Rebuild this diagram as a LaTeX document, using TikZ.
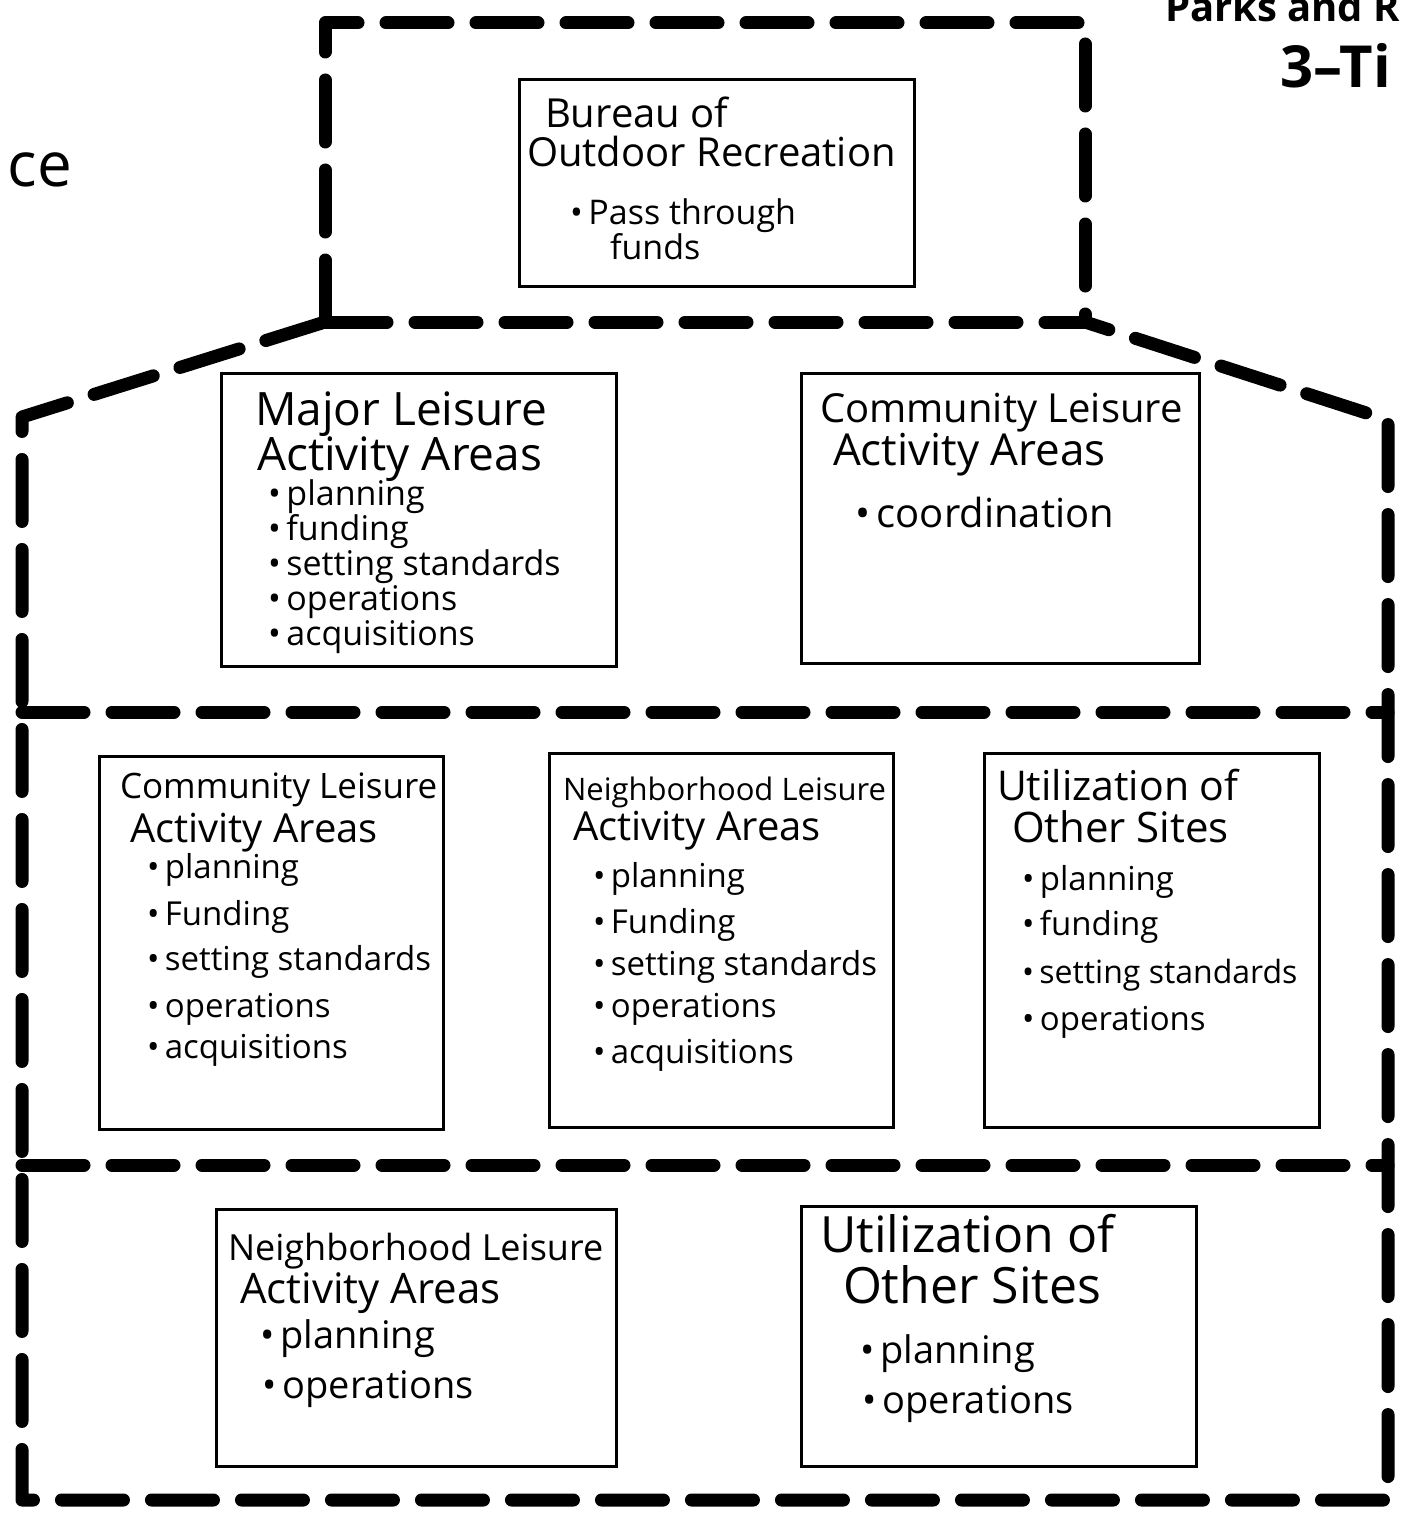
\documentclass[tikz,border=0pt]{standalone}
\usepackage{fontspec}
\setmainfont{Open Sans}
\newcommand\tsize[1]{\fontsize{#1}{#1}\selectfont}
\begin{document}
\begin{tikzpicture}[x=1pt,y=-1pt,
  wall/.style={line width=13pt,dash pattern=on 62pt off 28pt,line cap=round,line join=round},
  panel/.style={draw,line width=2.6pt,inner sep=0pt,anchor=north west},
  ln/.style={anchor=base west,inner sep=0pt,outer sep=0pt}]
\useasboundingbox (0,0) rectangle (1407,1517);
\clip (0,0) rectangle (1407,1517);
\fill[white] (0,0) rectangle (1407,1517);

% house outline corners and junctions
\coordinate (tl) at (325,23);
\coordinate (tr) at (1085,23);
\coordinate (el) at (325,322);
\coordinate (er) at (1085,322);
\coordinate (rl) at (22,417);
\coordinate (rr) at (1388,420);
\coordinate (bl) at (22,1500);
\coordinate (br) at (1388,1500);
\coordinate (d1l) at (22,712);
\coordinate (d1r) at (1388,712);
\coordinate (d2l) at (22,1165);
\coordinate (d2r) at (1388,1165);

% thick dashed outline: upper tier, roof, walls and floors
\draw[wall] (el) -- (tl) -- (tr) -- (er);
\draw[wall] (el) -- (er);
\draw[wall] (el) -- (rl) -- (bl) -- (br) -- (rr) -- (er);
\draw[wall] (d1l) -- (d1r);
\draw[wall] (d2l) -- (d2r);

% panels
\node[panel,minimum width=395pt,minimum height=207pt] (bureau) at (518,78) {};
\node[panel,minimum width=395pt,minimum height=293pt] (major) at (220,372) {};
\node[panel,minimum width=398pt,minimum height=290pt] (commtop) at (800,372) {};
\node[panel,minimum width=344pt,minimum height=373pt] (commmid) at (98,755) {};
\node[panel,minimum width=344pt,minimum height=374pt] (neighmid) at (548,752) {};
\node[panel,minimum width=335pt,minimum height=374pt] (utilmid) at (983,752) {};
\node[panel,minimum width=400pt,minimum height=257pt] (neighbot) at (215,1208) {};
\node[panel,minimum width=395pt,minimum height=260pt] (utilbot) at (800,1205) {};

% Bureau of Outdoor Recreation
\node[ln,font=\tsize{40}] (bu1) at (545,128) {Bureau of};
\node[ln,font=\tsize{40}] (bu2) at (527,167) {Outdoor Recreation};
\node[ln,font=\tsize{34}] (bu3) at (570,224) {•\,Pass through};
\node[ln,font=\tsize{34}] (bu4) at (610,259) {funds};

% Major Leisure Activity Areas
\node[ln,font=\tsize{46}] (ma1) at (255,425) {Major Leisure};
\node[ln,font=\tsize{46}] (ma2) at (257,470) {Activity Areas};
\node[ln,font=\tsize{34}] (ma3) at (268,505) {•\,planning};
\node[ln,font=\tsize{34}] (ma4) at (268,540) {•\,funding};
\node[ln,font=\tsize{34}] (ma5) at (268,575) {•\,setting standards};
\node[ln,font=\tsize{34}] (ma6) at (268,610) {•\,operations};
\node[ln,font=\tsize{34}] (ma7) at (268,645) {•\,acquisitions};

% Community Leisure Activity Areas (top floor)
\node[ln,font=\tsize{40}] (ct1) at (820,422) {Community Leisure};
\node[ln,font=\tsize{44}] (ct2) at (833,465) {Activity Areas};
\node[ln,font=\tsize{40}] (ct3) at (855,527) {•\,coordination};

% Community Leisure Activity Areas (middle floor)
\node[ln,font=\tsize{35}] (cm1) at (120,798) {Community Leisure};
\node[ln,font=\tsize{40}] (cm2) at (130,842) {Activity Areas};
\node[ln,font=\tsize{33}] (cm3) at (147,878) {•\,planning};
\node[ln,font=\tsize{33}] (cm4) at (147,925) {•\,Funding};
\node[ln,font=\tsize{33}] (cm5) at (147,970) {•\,setting standards};
\node[ln,font=\tsize{33}] (cm6) at (147,1017) {•\,operations};
\node[ln,font=\tsize{33}] (cm7) at (147,1058) {•\,acquisitions};

% Neighborhood Leisure Activity Areas (middle floor)
\node[ln,font=\tsize{31}] (nm1) at (563,800) {Neighborhood Leisure};
\node[ln,font=\tsize{40}] (nm2) at (573,840) {Activity Areas};
\node[ln,font=\tsize{33}] (nm3) at (593,887) {•\,planning};
\node[ln,font=\tsize{33}] (nm4) at (593,933) {•\,Funding};
\node[ln,font=\tsize{33}] (nm5) at (593,975) {•\,setting standards};
\node[ln,font=\tsize{33}] (nm6) at (593,1017) {•\,operations};
\node[ln,font=\tsize{33}] (nm7) at (593,1063) {•\,acquisitions};

% Utilization of Other Sites (middle floor)
\node[ln,font=\tsize{41}] (um1) at (997,800) {Utilization of};
\node[ln,font=\tsize{42}] (um2) at (1012,842) {Other Sites};
\node[ln,font=\tsize{33}] (um3) at (1022,890) {•\,planning};
\node[ln,font=\tsize{33}] (um4) at (1022,935) {•\,funding};
\node[ln,font=\tsize{32}] (um5) at (1022,983) {•\,setting standards};
\node[ln,font=\tsize{33}] (um6) at (1022,1030) {•\,operations};

% Neighborhood Leisure Activity Areas (ground floor)
\node[ln,font=\tsize{36}] (nb1) at (228,1260) {Neighborhood Leisure};
\node[ln,font=\tsize{42}] (nb2) at (240,1303) {Activity Areas};
\node[ln,font=\tsize{38}] (nb3) at (260,1348) {•\,planning};
\node[ln,font=\tsize{38}] (nb4) at (262,1398) {•\,operations};

% Utilization of Other Sites (ground floor)
\node[ln,font=\tsize{50}] (ub1) at (820,1252) {Utilization of};
\node[ln,font=\tsize{50}] (ub2) at (843,1303) {Other Sites};
\node[ln,font=\tsize{38}] (ub3) at (860,1363) {•\,planning};
\node[ln,font=\tsize{38}] (ub4) at (862,1413) {•\,operations};

% running heads at the page edges
\node[ln,font=\tsize{40}\bfseries] (parks) at (1165,22) {Parks and R};
\node[ln,font=\tsize{58}\bfseries] (tier) at (1280,88) {3–Ti};
\node[anchor=base east,inner sep=0pt,font=\tsize{62}] (ce) at (72,187) {ce};
\end{tikzpicture}
\end{document}
